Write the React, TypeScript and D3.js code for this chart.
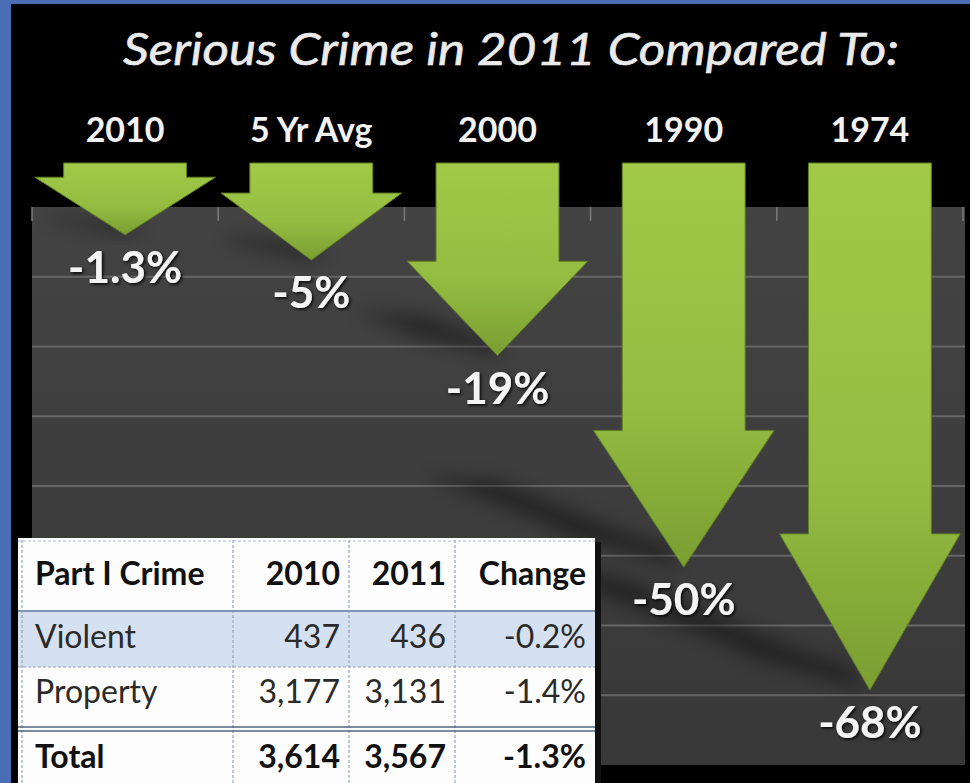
import React, { useEffect, useRef } from 'react';
import * as d3 from 'd3';

// arrows: serious crime in 2011 vs. earlier periods
const categories = ['2010', '5 Yr Avg', '2000', '1990', '1974'];
const changePct = [-1.3, -5, -19, -50, -68];

// inset table
const tableHeader = ['Part I Crime', '2010', '2011', 'Change'];
const crimeTypes = ['Violent', 'Property', 'Total'];
const count2010 = [437, 3177, 3614];
const count2011 = [436, 3131, 3567];
const pctChange = [-0.2, -1.4, -1.3];

const W = 970;
const H = 783;
const FONT = 'Lato, "Open Sans", sans-serif';

const App: React.FC = () => {
  const svgRef = useRef<SVGSVGElement>(null);

  useEffect(() => {
    if (!svgRef.current) return;
    const svg = d3.select(svgRef.current);
    svg.selectAll('*').remove();

    const defs = svg.append('defs');

    // blue frame + black panel
    svg.append('rect').attr('width', W).attr('height', H).attr('fill', '#4b6db5');
    svg.append('rect').attr('x', 11).attr('y', 4).attr('width', W - 11).attr('height', H - 4).attr('fill', '#000');

    // plot area
    const plot = { left: 32, right: 965, top: 207, bottom: 765 };
    defs.append('clipPath').attr('id', 'plotClip')
      .append('rect')
      .attr('x', plot.left).attr('y', plot.top)
      .attr('width', plot.right - plot.left).attr('height', plot.bottom - plot.top);

    const bg = defs.append('linearGradient').attr('id', 'plotBg')
      .attr('x1', 0).attr('y1', 0).attr('x2', 0).attr('y2', 1);
    bg.append('stop').attr('offset', '0%').attr('stop-color', '#434343');
    bg.append('stop').attr('offset', '100%').attr('stop-color', '#383838');

    svg.append('rect')
      .attr('x', plot.left).attr('y', plot.top)
      .attr('width', plot.right - plot.left).attr('height', plot.bottom - plot.top)
      .attr('fill', 'url(#plotBg)');

    const gridY = d3.scaleLinear().domain([0, 8]).range([plot.top, plot.bottom]);
    svg.append('g').selectAll('line')
      .data(d3.range(1, 8))
      .enter().append('line')
      .attr('x1', plot.left).attr('x2', plot.right)
      .attr('y1', d => gridY(d)).attr('y2', d => gridY(d))
      .attr('stroke', '#666').attr('stroke-width', 2);

    const x = d3.scaleBand().domain(categories).range([32, 963]).padding(0);
    const bw = x.bandwidth();

    // small ticks along the top of the plot
    svg.append('g').selectAll('line')
      .data(categories.concat(['end']))
      .enter().append('line')
      .attr('x1', (d, i) => 32 + i * bw).attr('x2', (d, i) => 32 + i * bw)
      .attr('y1', plot.top).attr('y2', plot.top + 14)
      .attr('stroke', '#7a7a7a').attr('stroke-width', 1.5);

    // arrow tip position
    const yArrow = d3.scaleLinear().domain([0, -68]).range([226, 690]);
    const shaftTop = 163;

    const arrows = categories.map((c, i) => {
      const cx = (x(c) as number) + bw / 2;
      const tip = yArrow(changePct[i]);
      const len = tip - shaftTop;
      const headH = 6.8 * Math.sqrt(len);
      const headTop = tip - headH;
      const sh = bw * 0.33;
      const hh = bw * 0.485;
      const pts: [number, number][] = [
        [cx - sh, shaftTop], [cx + sh, shaftTop], [cx + sh, headTop], [cx + hh, headTop],
        [cx, tip], [cx - hh, headTop], [cx - sh, headTop]
      ];
      return { c, cx, tip, pts, v: changePct[i] };
    });

    // soft shadows cast up-left from each tip
    defs.append('filter').attr('id', 'blur').attr('x', '-50%').attr('y', '-50%').attr('width', '200%').attr('height', '200%')
      .append('feGaussianBlur').attr('stdDeviation', 9);

    const shadowG = svg.append('g').attr('clip-path', 'url(#plotClip)');
    arrows.forEach(a => {
      const sp = a.pts.map(([px, py]) => {
        const dx = px - a.cx;
        const d = a.tip - py;
        return [a.cx + 0.6 * dx - 0.55 * d, a.tip - 0.22 * d + 0.05 * dx] as [number, number];
      });
      shadowG.append('path')
        .attr('d', d3.line()(sp) + 'Z')
        .attr('fill', '#000').attr('opacity', 0.4)
        .attr('filter', 'url(#blur)');
    });

    // arrows
    arrows.forEach((a, i) => {
      const g = defs.append('linearGradient').attr('id', 'arrowGrad' + i)
        .attr('x1', 0).attr('y1', 0).attr('x2', 0).attr('y2', 1);
      g.append('stop').attr('offset', '0%').attr('stop-color', '#a2ca48');
      g.append('stop').attr('offset', '60%').attr('stop-color', '#94bc41');
      g.append('stop').attr('offset', '100%').attr('stop-color', '#7a9e31');
      svg.append('path')
        .attr('d', d3.line()(a.pts) + 'Z')
        .attr('fill', `url(#arrowGrad${i})`)
        .attr('stroke', '#5f7f24').attr('stroke-width', 1);
    });

    // text shadow
    const ts = defs.append('filter').attr('id', 'txtShadow')
      .attr('x', '-20%').attr('y', '-20%').attr('width', '140%').attr('height', '140%');
    ts.append('feDropShadow').attr('dx', 1.5).attr('dy', 1.5).attr('stdDeviation', 1.5)
      .attr('flood-color', '#000').attr('flood-opacity', 0.9);

    // title
    svg.append('text')
      .attr('x', 511).attr('y', 65)
      .attr('text-anchor', 'middle')
      .attr('font-family', FONT).attr('font-style', 'italic')
      .attr('font-size', 45).attr('fill', '#ebebeb')
      .attr('stroke', '#ebebeb').attr('stroke-width', 0.6)
      .attr('textLength', 776).attr('lengthAdjust', 'spacingAndGlyphs')
      .text('Serious Crime in 2011 Compared To:');

    // category labels
    svg.append('g').selectAll('text')
      .data(arrows)
      .enter().append('text')
      .attr('x', d => d.cx).attr('y', 142)
      .attr('text-anchor', 'middle')
      .attr('font-family', FONT).attr('font-weight', 700)
      .attr('font-size', 34).attr('fill', '#f2f2f2')
      .text(d => d.c);

    // value labels
    svg.append('g').selectAll('text')
      .data(arrows)
      .enter().append('text')
      .attr('x', d => d.cx).attr('y', d => d.tip + 48)
      .attr('text-anchor', 'middle')
      .attr('font-family', FONT).attr('font-weight', 700)
      .attr('font-size', 44).attr('fill', '#f4f4f4')
      .attr('filter', 'url(#txtShadow)')
      .text(d => `${d.v}%`);

    // table
    const colEdges = [18, 233, 349, 455, 595];
    const rowEdges = [538, 611, 667, 729, 810];
    const baselines = [585, 648, 703, 768];
    const fmtN = d3.format(',');
    const fmtP = (v: number) => v.toFixed(1) + '%';

    const t = svg.append('g');
    t.append('rect')
      .attr('x', colEdges[4]).attr('y', rowEdges[0] + 4)
      .attr('width', 6).attr('height', H - rowEdges[0])
      .attr('fill', '#111');
    t.append('rect')
      .attr('x', colEdges[0]).attr('y', rowEdges[0])
      .attr('width', colEdges[4] - colEdges[0]).attr('height', H - rowEdges[0])
      .attr('fill', '#fdfdfd');
    t.append('rect')
      .attr('x', colEdges[0]).attr('y', rowEdges[1])
      .attr('width', colEdges[4] - colEdges[0]).attr('height', rowEdges[2] - rowEdges[1])
      .attr('fill', '#d5e0f0');

    const dashed = '3,2';
    // vertical dashed dividers
    t.selectAll('line.v')
      .data([22, colEdges[1], colEdges[2], colEdges[3]])
      .enter().append('line')
      .attr('x1', d => d).attr('x2', d => d)
      .attr('y1', rowEdges[0] + 2).attr('y2', H)
      .attr('stroke', '#9aa6b8').attr('stroke-width', 1.2)
      .attr('stroke-dasharray', dashed);
    t.append('line')
      .attr('x1', colEdges[0]).attr('x2', colEdges[4])
      .attr('y1', rowEdges[0] + 3).attr('y2', rowEdges[0] + 3)
      .attr('stroke', '#b4bccb').attr('stroke-width', 1).attr('stroke-dasharray', dashed);
    t.append('line')
      .attr('x1', colEdges[0]).attr('x2', colEdges[4])
      .attr('y1', rowEdges[1]).attr('y2', rowEdges[1])
      .attr('stroke', '#7f93b2').attr('stroke-width', 2);
    t.append('line')
      .attr('x1', colEdges[0]).attr('x2', colEdges[4])
      .attr('y1', rowEdges[2]).attr('y2', rowEdges[2])
      .attr('stroke', '#98a4b6').attr('stroke-width', 1.2).attr('stroke-dasharray', dashed);
    [rowEdges[3] - 2, rowEdges[3] + 2].forEach(yy => {
      t.append('line')
        .attr('x1', colEdges[0]).attr('x2', colEdges[4])
        .attr('y1', yy).attr('y2', yy)
        .attr('stroke', '#4f6380').attr('stroke-width', 1.6);
    });

    const cellX = (ci: number) => (ci === 0 ? colEdges[0] + 17 : colEdges[ci + 1] - 9);
    const anchor = (ci: number) => (ci === 0 ? 'start' : 'end');

    tableHeader.forEach((h, ci) => {
      t.append('text')
        .attr('x', cellX(ci)).attr('y', baselines[0])
        .attr('text-anchor', anchor(ci))
        .attr('font-family', FONT).attr('font-weight', 700)
        .attr('font-size', 32).attr('fill', '#111')
        .text(h);
    });

    crimeTypes.forEach((name, ri) => {
      const bold = name === 'Total';
      const cells = [name, fmtN(count2010[ri]), fmtN(count2011[ri]), fmtP(pctChange[ri])];
      cells.forEach((txt, ci) => {
        t.append('text')
          .attr('x', cellX(ci)).attr('y', baselines[ri + 1])
          .attr('text-anchor', anchor(ci))
          .attr('font-family', FONT).attr('font-weight', bold ? 700 : 400)
          .attr('font-size', 32).attr('fill', bold ? '#111' : '#2a2a2a')
          .text(txt);
      });
    });
  }, []);

  return (
    <svg
      ref={svgRef}
      width={W}
      height={H}
      style={{ position: 'absolute', left: 0, top: 0, display: 'block' }}
    />
  );
};

export default App;
